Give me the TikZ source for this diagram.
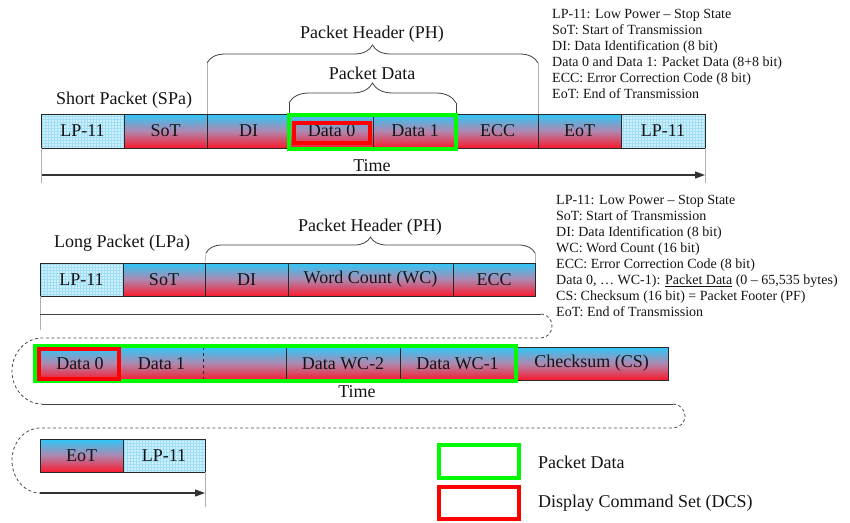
\documentclass[tikz,border=0pt]{standalone}
\usepackage{fontspec}
\setmainfont{Liberation Serif}
\usetikzlibrary{decorations.pathreplacing,arrows.meta,calc}
\definecolor{cyantop}{RGB}{45,200,248}
\definecolor{midmauve}{RGB}{175,135,175}
\definecolor{redbot}{RGB}{250,25,45}
\definecolor{lpfill}{RGB}{205,240,252}
\definecolor{lpgrid}{RGB}{160,222,246}
\definecolor{bord}{RGB}{40,40,40}
\definecolor{txt}{RGB}{20,20,20}
\definecolor{grn}{RGB}{0,250,0}
\definecolor{rd}{RGB}{255,0,0}
\definecolor{thin}{RGB}{175,175,175}
\tikzset{
 cell/.style={draw=bord, line width=0.8pt, inner sep=0pt, outer sep=0pt, minimum height=33pt, text=txt, font=\fontsize{18}{20}\selectfont},
 grad/.style={cell, top color=cyantop, bottom color=redbot, middle color=midmauve},
 lpcell/.style={cell, fill=lpfill, path picture={\draw[lpgrid, line width=0.4pt, step=3pt] (path picture bounding box.south west) grid (path picture bounding box.north east);}},
 lbl/.style={inner sep=0pt, text=txt, font=\fontsize{18}{20}\selectfont},
 legend/.style={inner sep=0pt, text=txt, align=left, font=\fontsize{14}{16}\selectfont},
 greenbox/.style={draw=grn, line width=4pt},
 redbox/.style={draw=rd, line width=4pt},
 guide/.style={draw=thin, line width=0.6pt},
 brc/.style={draw=black!75, line width=0.8pt, decorate, decoration={brace, amplitude=#1}},
 timeline/.style={draw=black!80, line width=1.2pt},
 wrapline/.style={draw=black!75, line width=0.8pt},
 wrapdash/.style={draw=black!70, line width=0.8pt, dash pattern=on 3pt off 2.5pt},
 tip/.style={-{Triangle[length=10pt,width=7pt]}}
}
\begin{document}
\begin{tikzpicture}[x=1pt,y=1pt]
\useasboundingbox (0,0) rectangle (850,-522);
% ---------- Short packet ----------
\node[lbl] (spa) at (124,-100) {Short Packet (SPa)};
\node[lbl] (ph1) at (372,-34) {Packet Header (PH)};
\node[lbl] (pd1) at (372,-73) {Packet Data};
\node[lpcell, minimum width=83pt, minimum height=34pt] (lp1a) at (82.5,-131) {LP-11};
\node[grad, minimum width=83pt, minimum height=34pt] (sot1) at (165.5,-131) {SoT};
\node[grad, minimum width=83pt, minimum height=34pt] (di1) at (248.5,-131) {DI};
\node[grad, minimum width=83pt, minimum height=34pt] (d0) at (331.5,-131) {Data 0};
\node[grad, minimum width=84pt, minimum height=34pt] (d1) at (415,-131) {Data 1};
\node[grad, minimum width=81pt, minimum height=34pt] (ecc1) at (497.5,-131) {ECC};
\node[grad, minimum width=83pt, minimum height=34pt] (eot1) at (579.5,-131) {EoT};
\node[lpcell, minimum width=84pt, minimum height=34pt] (lp1b) at (663,-131) {LP-11};
\draw[greenbox] ($(d0.north west)+(-1,-1)$) rectangle ($(d1.south east)+(-1,-1)$);
\draw[redbox] ($(d0.north west)+(4,-9)$) rectangle ($(d0.south east)+(-3,5)$);
% braces
\draw[brc=18pt] (207,-63) -- (538,-63);
\draw[guide] (207,-63) -- (di1.north west);
\draw[guide] (538,-63) -- (ecc1.north east);
\draw[brc=20pt] (289,-103) -- (456,-103);
\draw[draw=black!75, line width=0.8pt] (289,-103) -- (289,-113) (456,-103) -- (456,-113);
% time
\node[lbl] (time1) at (372,-166) {Time};
\coordinate (t1s) at (41,-175);
\coordinate (t1e) at (705,-175);
\draw[timeline, tip] (t1s) -- (t1e);
\draw[guide] (lp1a.south west) -- (41,-183);
\draw[guide] (lp1b.south east) -- (705,-183);
% legend 1
\node[legend, anchor=north west] (leg1) at (552,-9.5) {LP-11: Low Power -- Stop State\\
SoT: Start of Transmission\\
DI: Data Identification (8 bit)\\
Data 0 and Data 1: Packet Data (8+8 bit)\\
ECC: Error Correction Code (8 bit)\\
EoT: End of Transmission};
% ---------- Long packet ----------
\node[lbl] (lpa) at (122,-243) {Long Packet (LPa)};
\node[lbl] (ph2) at (370,-227) {Packet Header (PH)};
\node[lpcell, minimum width=83pt] (lp2) at (81.5,-279.5) {LP-11};
\node[grad, minimum width=82pt] (sot2) at (164,-279.5) {SoT};
\node[grad, minimum width=83pt] (di2) at (246.5,-279.5) {DI};
\node[grad, minimum width=165pt] (wc2) at (370.5,-279.5) {Word Count (WC)};
\node[grad, minimum width=82pt] (ecc2) at (494,-279.5) {ECC};
\draw[brc=16pt] (206,-253) -- (535,-253);
\draw[guide] (206,-253) -- (di2.north west);
\draw[guide] (535,-253) -- (ecc2.north east);
\draw[guide] (lp2.south west) -- (40,-330);
\node[legend, anchor=north west] (leg2) at (556,-195.5) {LP-11: Low Power -- Stop State\\
SoT: Start of Transmission\\
DI: Data Identification (8 bit)\\
WC: Word Count (16 bit)\\
ECC: Error Correction Code (8 bit)\\
Data 0, … WC-1): \underline{Packet Data} (0 -- 65,535 bytes)\\
CS: Checksum (16 bit) = Packet Footer (PF)\\
EoT: End of Transmission};
% wrap 1
\coordinate (w1a) at (40,-314);
\coordinate (w1b) at (541,-314);
\draw[wrapline] (w1a) -- (w1b);
\draw[wrapdash] (w1b) arc[start angle=90, end angle=-90, x radius=11, y radius=12] -- (42,-338)
  arc[start angle=90, end angle=270, x radius=30, y radius=33];
% row 3
\node[grad, minimum width=80pt] (r3d0) at (80,-363.5) {Data 0};
\node[grad, draw=none, minimum width=83pt] (r3d1) at (161.5,-363.5) {Data 1};
\node[grad, draw=none, minimum width=83pt] (r3bl) at (244.5,-363.5) {};
\node[grad, minimum width=114pt] (r3wc2) at (343,-363.5) {Data WC-2};
\node[grad, minimum width=115pt] (r3wc1) at (457.5,-363.5) {Data WC-1};
\node[grad, minimum width=153pt] (cs) at (591.5,-363.5) {Checksum (CS)};
\draw[bord, line width=0.8pt, dashed] (r3d1.north east) -- (r3d1.south east);
\draw[greenbox] ($(r3d0.north west)+(-5,1)$) rectangle ($(r3wc1.south east)+(1,-1)$);
\draw[redbox] ($(r3d0.north west)+(-1,-2)$) rectangle ($(r3d0.south east)+(-1,1)$);
\node[lbl] (time2) at (357,-392) {Time};
% wrap 2
\coordinate (w2a) at (42,-404);
\coordinate (w2b) at (673,-404);
\draw[wrapline] (w2a) -- (w2b);
\draw[wrapdash] (w2b) arc[start angle=90, end angle=-90, x radius=12, y radius=12] -- (40,-428)
  arc[start angle=90, end angle=270, x radius=28, y radius=32.5];
% row 4
\node[grad, minimum width=83pt] (eot4) at (81.5,-455.5) {EoT};
\node[lpcell, minimum width=82pt] (lp4) at (164,-455.5) {LP-11};
\coordinate (t2s) at (40,-493);
\coordinate (t2e) at (205,-493);
\draw[timeline, tip] (t2s) -- (t2e);
\draw[guide] (lp4.south east) -- (205,-507);
% legend boxes
\node[greenbox, inner sep=0pt, minimum width=80pt, minimum height=33pt] (lgg) at (479,-461.5) {};
\node[redbox, inner sep=0pt, minimum width=80pt, minimum height=32pt] (lgr) at (479,-503) {};
\node[lbl, anchor=west] (lggt) at (538,-462) {Packet Data};
\node[lbl, anchor=west] (lgrt) at (538,-503) {Display Command Set (DCS)};
\end{tikzpicture}
\end{document}
